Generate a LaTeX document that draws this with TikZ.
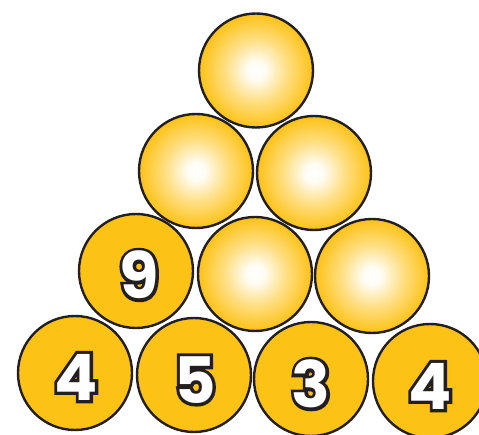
\documentclass[tikz,border=0pt]{standalone}
\usepackage{fontspec}
\setmainfont{Poppins}
\newfontfamily\digfont{Poppins Bold}
\newfontfamily\digoutline[FakeBold=10]{Poppins Bold}
\definecolor{gold}{HTML}{FDC216}
\definecolor{edge}{HTML}{231F20}
\pgfdeclareradialshading{ball}{\pgfpoint{0bp}{0bp}}{color(0bp)=(white); color(4bp)=(white!95!gold); color(14bp)=(white!45!gold); color(25bp)=(gold); color(50bp)=(gold)}
\tikzset{
  ball/.style={circle, draw=edge, line width=2.4pt, minimum size=114pt, inner sep=0pt, shading=ball},
  solid ball/.style={circle, draw=edge, line width=2.4pt, minimum size=114pt, inner sep=0pt, fill=gold},
  digit/.style={inner sep=0pt, font=\fontsize{64}{64}\digfont}
}
\newcommand{\dig}[1]{\makebox[0pt]{\textcolor{edge}{\digoutline #1}}\makebox[0pt]{\textcolor{white}{#1}}}
\begin{document}
\begin{tikzpicture}[x=1pt,y=-1pt]
\clip (0,0) rectangle (479,435);
\fill[white] (0,0) rectangle (479,435);
% top
\node[ball] (t) at (256,70.5) {};
% row 2
\node[ball] (r2a) at (196,171) {};
\node[ball] (r2b) at (314,173) {};
% row 3
\node[solid ball] (r3a) at (136,271) {};
\node[ball] (r3b) at (255,274) {};
\node[ball] (r3c) at (372,276) {};
% row 4
\node[solid ball] (r4a) at (75,373) {};
\node[solid ball] (r4b) at (194,375) {};
\node[solid ball] (r4c) at (311,379) {};
\node[solid ball] (r4d) at (430,381) {};
% digits
\node[digit] (d9) at (139,275) {\dig{9}};
\node[digit] (d4a) at (76,377) {\dig{4}};
\node[digit] (d5) at (195,380) {\dig{5}};
\node[digit] (d3) at (311,384) {\dig{3}};
\node[digit] (d4b) at (430,386) {\dig{4}};
\end{tikzpicture}
\end{document}
